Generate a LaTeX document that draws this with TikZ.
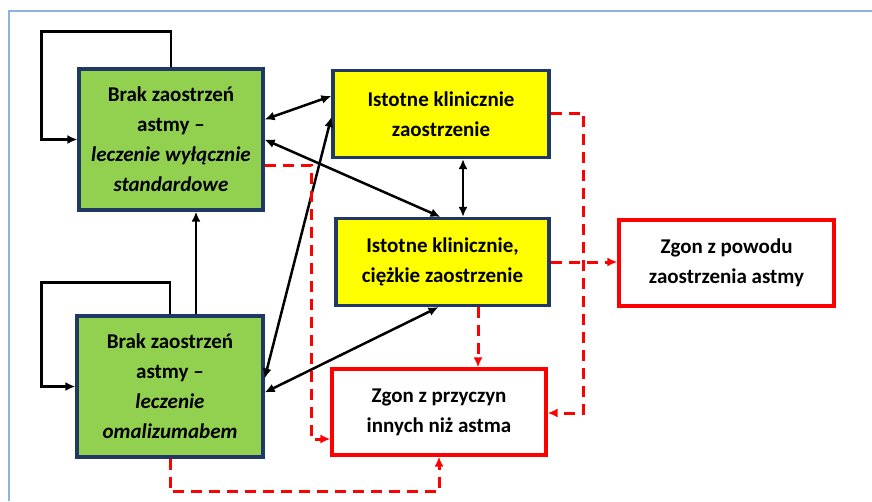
\documentclass[tikz,border=0pt]{standalone}
\usepackage{fontspec}
\setmainfont{Carlito}
\usetikzlibrary{arrows.meta}
\definecolor{boxgreen}{HTML}{92D050}
\definecolor{boxyellow}{HTML}{FFFF00}
\definecolor{boxedge}{HTML}{1F3864}
\definecolor{frameblue}{HTML}{8DB3E2}
\definecolor{deathred}{HTML}{FF0000}
\tikzset{
  stanbox/.style={draw=boxedge, line width=3.2pt, align=center, inner sep=0pt,
    font=\bfseries\fontsize{21}{30}\selectfont},
  greenbox/.style={stanbox, fill=boxgreen, minimum height=141pt},
  yellowbox/.style={stanbox, fill=boxyellow, minimum height=87pt},
  zgonbox/.style={stanbox, draw=deathred, fill=white, minimum width=214pt, minimum height=86pt},
  przejscie/.style={line width=2.5pt},
  zgonlink/.style={draw=deathred, line width=3pt, dash pattern=on 11pt off 7pt, ->}
}
\begin{document}
\begin{tikzpicture}[x=1pt,y=-1pt,>={Latex[length=10pt,width=9pt]}]
  \useasboundingbox (0,0) rectangle (872,501);
  \draw[frameblue, line width=2pt] (9,501) -- (9,11) -- (872,11);
  \draw
    (171,139.5) node[greenbox, minimum width=184pt] (A)
      {Brak zaostrzeń\\astmy –\\\textit{leczenie wyłącznie}\\\textit{standardowe}}
    (170,386.5) node[greenbox, minimum width=186pt] (B)
      {Brak zaostrzeń\\astmy –\\\textit{leczenie}\\\textit{omalizumabem}}
    (441,114) node[yellowbox, minimum width=216pt] (C)
      {Istotne klinicznie\\zaostrzenie}
    (442.5,262) node[yellowbox, minimum width=213pt] (D)
      {Istotne klinicznie,\\ciężkie zaostrzenie}
    (439,412) node[zgonbox] (E)
      {Zgon z przyczyn\\innych niż astma}
    (726.5,263) node[zgonbox, minimum width=215pt] (F)
      {Zgon z powodu\\zaostrzenia astmy};
  % petle i przejscia
  \begin{scope}[przejscie]
    \draw[->] (A.north) -- ++(0,-36) -| ([xshift=-36pt]A.west) -- (A.west);
    \draw[->] (B.north) -- ++(0,-32) -| ([xshift=-34pt]B.west) -- (B.west);
    \draw[->] ([xshift=26pt]B.north) -- ([xshift=25pt]A.south);
    \draw[<->] ([yshift=20pt]A.east) -- ([yshift=18pt]C.west);
    \draw[<->] (A.east) -- ([xshift=-2pt]D.north);
    \draw[<->] ([yshift=8pt]B.east) -- ([yshift=-3pt]C.west);
    \draw[<->] ([yshift=-6pt]B.east) -- ([xshift=-4pt]D.south);
    \draw[<->] ([xshift=22pt]C.south) -- ([xshift=20.5pt]D.north);
  \end{scope}
  % zgony
  \begin{scope}[zgonlink]
    \draw ([yshift=-26pt]A.east) -- ++(47,0) |- ([yshift=-27pt]E.west);
    \draw ([yshift=1pt]C.east) -- ++(33,0) |- ([yshift=-1pt]E.east);
    \draw (D.east) -- (D.east -| F.west);
    \draw ([xshift=35.5pt]D.south) -- ([xshift=39pt]E.north);
    \draw (B.south) -- ++(0,33) -| (E.south);
  \end{scope}
\end{tikzpicture}
\end{document}
